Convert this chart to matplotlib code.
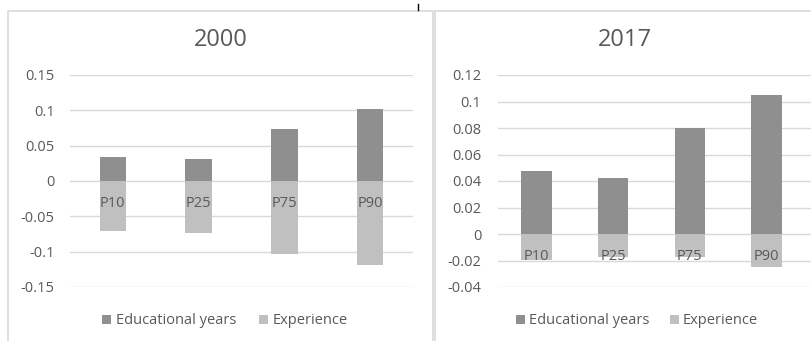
import matplotlib.pyplot as plt
from matplotlib.patches import Rectangle
from matplotlib.lines import Line2D
from matplotlib.ticker import MultipleLocator, FuncFormatter

plt.rcParams['font.family'] = ['Open Sans', 'DejaVu Sans']
plt.rcParams['axes.unicode_minus'] = False

percentis = ["P10", "P25", "P75", "P90"]

educ_2000 = [0.034, 0.031, 0.0735, 0.102]
exper_2000 = [-0.071, -0.074, -0.104, -0.119]

educ_2017 = [0.0475, 0.0423, 0.080, 0.105]
exper_2017 = [-0.0196, -0.0176, -0.0174, -0.0247]

COR_EDUC = "#8f8f8f"
COR_EXPER = "#c0c0c0"
COR_TEXTO = "#595959"
COR_GRADE = "#d9d9d9"

W, H = 812, 341
fig = plt.figure(figsize=(W / 100, H / 100), dpi=100)


def px(x0, y0, x1, y1):
    # caixa em pixels -> coordenadas da figura
    return [x0 / W, 1 - y1 / H, (x1 - x0) / W, (y1 - y0) / H]


def painel(ax, educ, exper, titulo, passo, ylim, largura, xmax, tx, leg_x, pad_y, esp):
    x = range(len(percentis))
    ax.bar(x, educ, width=largura, color=COR_EDUC, label="Educational years")
    ax.bar(x, exper, width=largura, color=COR_EXPER, label="Experience")

    ax.set_xlim(-0.5, xmax)
    ax.set_ylim(*ylim)
    ax.yaxis.set_major_locator(MultipleLocator(passo))
    ax.yaxis.set_major_formatter(FuncFormatter(lambda v, p: "%g" % round(v, 4)))
    ax.grid(axis="y", color=COR_GRADE, linewidth=1)
    ax.set_axisbelow(True)
    # rótulos das categorias ficam por cima das barras
    ax.xaxis.set_zorder(5)

    for s in ["top", "right", "left"]:
        ax.spines[s].set_visible(False)
    ax.spines["bottom"].set_position(("data", 0))
    ax.spines["bottom"].set_visible(False)

    ax.set_xticks(list(x))
    ax.set_xticklabels(percentis)
    ax.tick_params(axis="x", length=0, pad=11, labelsize=10.5, labelcolor=COR_TEXTO)
    ax.tick_params(axis="y", length=0, pad=pad_y, labelsize=10.5, labelcolor=COR_TEXTO)

    fig.text(tx / W, 1 - 39.5 / H, titulo, ha="center", va="center",
             fontsize=17, color=COR_TEXTO)

    ax.legend(loc="center", bbox_to_anchor=(leg_x / W, 1 - 321 / H),
              bbox_transform=fig.transFigure, ncol=2, frameon=False,
              handlelength=0.6, handleheight=0.6, handletextpad=0.3,
              columnspacing=esp, fontsize=10.5, labelcolor=COR_TEXTO)


ax1 = fig.add_axes(px(70, 75, 413, 287))
painel(ax1, educ_2000, exper_2000, "2000", 0.05, (-0.15, 0.15), 0.31, 3.5,
       221, 225, 11, 1.6)

ax2 = fig.add_axes(px(498, 75, 812, 287))
painel(ax2, educ_2017, exper_2017, "2017", 0.02, (-0.04, 0.12), 0.4,
       -0.5 + 314 / 76.75, 625, 637, 12, 1.4)

# molduras das duas áreas de gráfico
fig.patches.append(Rectangle((8 / W, -0.1), (433 - 8) / W, 1.1 - 11 / H,
                             transform=fig.transFigure, fill=False,
                             edgecolor=COR_GRADE, linewidth=1.2))
fig.patches.append(Rectangle((435 / W, -0.1), 0.5, 1.1 - 11 / H,
                             transform=fig.transFigure, fill=False,
                             edgecolor=COR_GRADE, linewidth=1.2))
fig.lines.append(Line2D([418.5 / W, 418.5 / W], [1 - 4 / H, 1 - 10 / H],
                        transform=fig.transFigure, color="black", linewidth=1))

fig.savefig("out.png", dpi=100)
